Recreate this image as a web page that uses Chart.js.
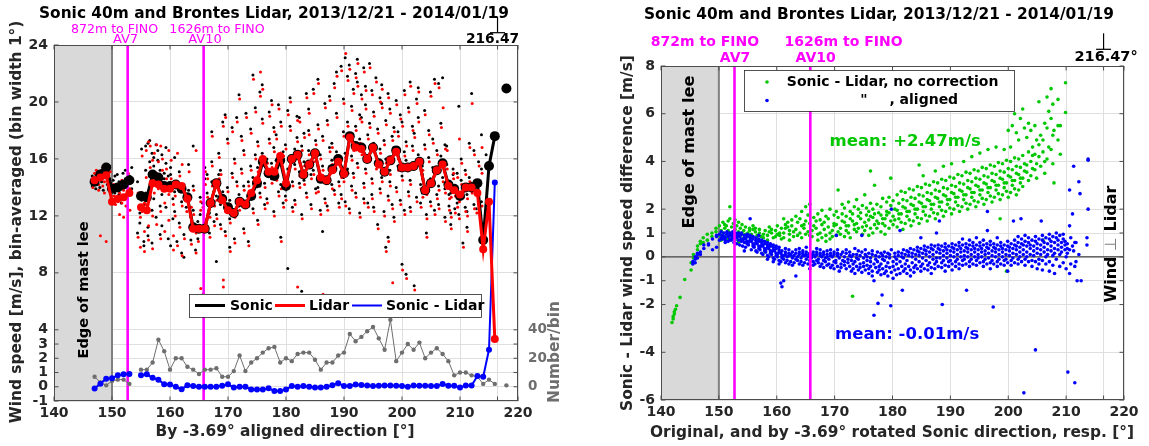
<!DOCTYPE html>
<html>
<head>
<meta charset="utf-8">
<script src="https://cdn.jsdelivr.net/npm/chart.js@4.4.0/dist/chart.umd.min.js"></script>
<style>
body{margin:0;background:#fff;width:1149px;height:446px;overflow:hidden;position:relative}
#left{position:absolute;left:0;top:0}
#right{position:absolute;left:570px;top:0}
</style>
</head>
<body>
<canvas id="left" width="570" height="446"></canvas>
<canvas id="right" width="579" height="446"></canvas>
<script>
// ---- texts ----
const chartTitle = "Sonic 40m and Brontes Lidar, 2013/12/21 - 2014/01/19";
const leftXTitle = "By -3.69\u00b0 aligned direction [\u00b0]";
const leftYTitle = "Wind speed [m/s], bin-averaged (bin width 1\u00b0)";
const countTitle = "Number/bin";
const rightXTitle = "Original, and by -3.69\u00b0 rotated Sonic direction, resp. [\u00b0]";
const rightYTitle = "Sonic - Lidar wind speed difference [m/s]";
const leeLabel = "Edge of mast lee";
const mastDist = ["872m to FINO", "1626m to FINO"];
const mastNames = ["AV7", "AV10"];
const meanLabels = ["mean: +2.47m/s", "mean: -0.01m/s"];

// ---- reference directions ----
const leeEdge = 150;
const mastDirs = [152.7, 165.8];
const perpDir = 216.47;

// ---- ticks ----
const dirTicks = [140, 150, 160, 170, 180, 190, 200, 210, 220, 216.47];
const leftYTicks = [-1, 0, 1, 2, 3, 4, 8, 12, 16, 20, 24];
const countTicks = [0, 10, 20, 30, 40, 80, 120, 160, 200];
const countLabels = [0, 20, 40];
const rightYTicks = [-6, -4, -2, -1, 0, 1, 2, 4, 6, 8];

// ---- bin-averaged (left) ----
const dirBins = [147,148,149,150,151,152,153,154,155,156,157,158,159,160,161,162,163,164,165,166,167,168,169,170,171,172,173,174,175,176,177,178,179,180,181,182,183,184,185,186,187,188,189,190,191,192,193,194,195,196,197,198,199,200,201,202,203,204,205,206,207,208,209,210,211,212,213,214,215,216,217,218];
const sonicMean = [14.4,14.9,15.4,13.9,14.0,14.2,14.5,null,13.4,13.3,14.9,14.7,14.1,14.1,14.2,13.9,13.3,11.2,11.1,11.1,12.9,14.3,13.2,12.6,12.2,13.0,12.8,13.4,14.3,15.8,15.0,14.8,15.9,14.1,16.0,16.3,14.9,15.6,16.4,14.6,14.5,15.3,16.0,15.0,17.6,16.9,16.8,16.0,16.8,15.7,15.1,15.9,16.6,15.4,15.4,15.5,15.8,13.8,14.3,15.2,15.7,14.2,13.9,13.4,14.0,14.0,14.3,10.3,15.5,17.6,null,20.95];
const lidarMean = [14.5,14.7,14.85,13.0,13.2,13.3,13.6,null,12.6,12.4,14.3,14.2,13.9,13.9,14.2,14.1,13.2,11.1,11.1,11.1,12.9,14.3,13.1,12.4,12.2,13.0,12.8,13.6,14.5,16.0,15.1,15.1,16.2,14.3,16.0,16.3,14.9,15.6,16.4,14.7,14.5,15.2,15.8,14.95,17.5,16.8,16.7,16.0,16.8,15.6,15.1,15.9,16.5,15.4,15.4,15.5,15.8,13.8,14.3,15.2,15.6,14.1,13.8,13.5,14.0,14.0,13.6,9.65,13.0,3.35,null,null];
const diffMean = [-0.13,0.22,0.57,0.6,0.8,0.87,0.9,null,0.8,0.87,0.63,0.5,0.17,0.15,0.0,-0.17,0.1,0.05,0.0,0.0,0.0,0.0,0.07,0.17,-0.05,0.0,0.0,-0.2,-0.2,-0.2,-0.1,-0.3,-0.3,-0.2,0.05,0.0,0.05,0.0,-0.05,-0.05,0.0,0.1,0.25,0.05,0.05,0.15,0.12,0.08,0.05,0.07,0.08,0.08,0.07,0.05,0.0,0.08,0.07,0.07,0.05,0.05,0.2,0.07,0.07,-0.05,0.08,0.08,0.75,0.7,2.6,14.35,null,null];
const countPerBin = [7,3,1,4,5,5,2,null,12,12,17,33,25,12,20,20,14,12,9,12,12,13,7,7,11,22,11,17,20,24,27,28,17,20,18,23,24,24,19,12,17,17,22,24,37,32,35,39,42,34,26,47,18,24,30,26,31,20,24,27,23,18,8,10,10,8,7,2,5,2,null,1];

// ---- 10-min values (left), rows: [direction, speeds...] ----
const sonicRaw = [
[146.6,14.1,14.8],[146.9,14.5,14.3],[147.2,14.9,13.9],[147.5,14.2,15.1],[147.9,14.6,14.0],[148.2,15.2,14.4],[148.5,15.0,13.8],[148.8,14.7,15.3],[149.2,14.2,14.9],[149.6,15.5,14.6],
[150.2,14.1,14.5],[150.5,13.6,14.8],[150.9,13.8,14.9],[151.2,14.4,13.5],[151.6,14.2,12.9],[151.9,15.0,13.9],[152.3,14.6,15.2],[152.7,13.7,14.0],[153.0,14.8,14.3],[153.4,13.9,15.4],
[154.4,10.8,14.4],[154.8,11.5,12.2],[155.1,13.1,16.7],[155.5,10.2,12.8,9.9],[155.8,16.9,13.6,15.2],[156.2,17.1,10.6,11.2],[156.5,17.3,14.8,15.8],[156.9,16.4,12.4,10.1],[157.2,16.1,15.5,13.2],[157.6,17.0,14.3,11.9],
[157.9,16.6,14.1,15.9],[158.3,15.2,12.7,10.7],[158.6,16.3,13.5,11.3],[159.0,14.6,15.0],[159.3,15.7,12.6,16.8],[159.7,13.9,14.8,10.4],[160.1,14.9,15.4,9.9],[160.5,13.2,11.8],[160.8,13.7,12.3,16.1],[161.2,14.4,10.2],
[161.6,15.1,11.5],[162.0,13.0,9.4],[162.4,14.2,10.7,9.1],[162.8,12.6,13.5],[163.2,13.8,15.6],[163.6,11.9,10.3],[164.0,12.4,14.1,16.9],[164.4,11.0,9.6],[164.8,11.6,10.4],[165.2,13.3,12.1],
[165.6,12.9,11.2],[166.0,14.6,15.4],[166.4,13.6,14.9],[166.8,12.2,10.8],[167.2,14.4,15.8,17.9],[167.6,13.0,11.6],[168.0,13.4,12.1,8.8],[168.4,14.9,16.4],[168.7,15.2,11.4,12.8],[169.1,13.7,18.6],
[169.5,12.6,10.9,19.1],[169.9,14.0,17.4],[170.3,13.1,11.8,9.8],[170.7,15.0,18.2],[171.1,12.2,16.0,10.4],[171.5,14.4,18.9],[171.9,13.5,12.7,20.5],[172.3,15.3,17.6],[172.7,14.1,16.6,11.1],[173.1,12.9,19.2],
[173.5,13.0,14.4,10.2],[173.9,15.5,18.1],[174.3,14.7,12.5,21.9],[174.7,16.3,19.6],[175.1,15.4,17.2,11.7],[175.5,13.6,20.7,14.1],[175.9,16.4,18.8,21.2],[176.3,14.3,12.8],[176.7,15.1,13.2,16.0],[177.1,17.4,19.3],
[177.5,14.6,20.1,15.7],[177.9,16.8,12.3,18.2],[178.3,15.9,17.7,14.8],[178.7,13.7,19.8],[179.1,14.2,18.6,10.5],[179.5,16.5,12.9],[179.9,13.4,17.0,14.6],[180.3,15.3,19.4,8.3],[180.7,16.2,18.3,20.3],[181.1,14.4,12.6],
[181.5,15.6,13.1,16.7],[181.9,17.5,19.0],[182.3,14.3,18.9,15.1],[182.7,16.9,12.1,6.7],[183.1,15.8,17.8,14.5],[183.5,13.6,20.6],[183.9,16.6,19.5,18.0],[184.3,14.9,12.8],[184.7,15.2,20.9,16.1],[185.1,17.3,13.9],
[185.5,14.0,18.4,21.6],[185.9,16.3,12.4],[186.3,15.5,17.6,10.9],[186.7,13.2,19.9],[187.1,14.6,12.7,18.7],[187.5,16.8,20.4],[187.9,15.9,17.1,14.2],[188.3,13.8,21.3],[188.7,16.5,19.2,22.1],[189.1,14.4,12.9],
[189.5,15.0,13.5,22.5],[189.9,17.9,20.2,14.7],[190.2,16.4,13.0,23.1],[190.6,18.6,21.8,15.3],[190.9,17.8,12.5,22.6],[191.3,14.1,19.7,16.2],[191.6,16.9,20.9,15.0],[192.0,13.6,22.0,18.3],[192.3,15.7,21.4,23.0],[192.7,17.4,12.2,19.1],
[193.0,16.6,20.5,18.9],[193.4,14.3,22.4,13.2],[193.7,15.3,21.1,19.8],[194.1,17.7,12.9],[194.4,16.2,18.5,22.7],[194.8,13.5,20.8,14.6],[195.1,17.1,19.3,12.6],[195.5,15.6,21.7],[195.8,15.8,18.1,11.4],[196.2,13.9,20.3,16.7],
[196.5,14.7,19.9,21.2],[196.9,17.3,12.3],[197.2,16.0,18.7,9.8],[197.6,13.4,10.5,20.6],[197.9,15.2,19.5,14.4],[198.3,17.6,12.8,6.4],[198.6,16.8,18.2,11.9],[199.0,14.0,20.1],[199.3,15.5,17.9,16.3],[199.7,13.1,19.1],
[200.0,14.8,18.6,8.6],[200.4,16.5,12.4,20.8],[200.7,15.9,17.2,7.9],[201.1,13.7,19.6],[201.4,14.5,12.6,21.4],[201.8,16.9,18.3],[202.1,15.6,17.8,7.1],[202.5,13.3,20.2],[202.8,16.3,18.9,21.0],[203.2,14.2,12.9],
[203.5,14.9,13.6,15.5],[203.9,17.0,19.4],[204.2,13.8,12.1,10.8],[204.6,16.1,18.0],[204.9,14.6,13.0,20.7],[205.3,15.4,17.4],[205.6,15.3,12.4,21.6],[206.0,13.5,16.6],[206.3,14.1,12.8,21.3],[206.7,16.2,18.5],
[207.0,15.8,14.7,21.7],[207.4,13.9,17.0,11.9],[207.7,14.4,15.6,16.9],[208.1,12.7,13.5],[208.4,13.6,12.2,11.4],[208.8,14.9,15.3],[209.1,14.1,13.7,12.5],[209.5,12.9,15.0],[209.8,13.3,12.1,19.7],[210.2,14.5,16.0],
[210.5,14.0,13.6,10.1],[210.9,12.6,15.2],[211.2,13.5,12.3,11.2],[211.6,14.7,17.1],[212.0,13.9,14.3,20.6],[212.4,12.8,16.6],[212.8,14.4,12.5],[213.2,13.2,15.8],[213.7,17.7,15.3,13.0],[214.5,16.3,11.9]
];
const lidarRaw = [
[146.7,14.3,14.0],[147.0,14.7,15.0],[147.3,14.5,15.2],[147.7,13.8,14.2],[148.0,14.9,10.6],[148.4,14.1,15.4],[148.7,14.4,13.6],[149.0,10.2,14.8],[149.4,13.9,14.6],[149.7,15.1],
[150.3,13.4,14.2],[150.6,12.8],[151.0,13.0,14.1],[151.3,12.1,13.6],[151.7,12.9,14.5],[152.0,13.8,11.9],[152.4,13.5,12.7],[152.8,14.3,15.0],[153.1,13.9,12.4],[153.5,14.6],
[154.5,10.5,13.6],[154.9,11.9,9.8],[155.2,12.3,16.2],[155.6,10.9,12.9,9.5],[155.9,16.6,12.8,14.7],[156.3,17.2,11.3,10.3],[156.6,16.9,14.2,15.4],[157.0,15.9,12.0,9.7],[157.3,16.4,13.6],[157.7,15.0,17.0,11.4],
[158.0,15.8,13.9],[158.4,16.9,12.3,10.4],[158.7,16.0,15.2],[159.1,14.3,12.9,10.9],[159.4,15.3,14.6],[159.8,13.5,16.6,11.7],[160.2,14.6,15.9],[160.6,12.8,10.6,9.6],[160.9,13.4,12.0],[161.3,14.1,9.9,16.4],
[161.7,14.8,11.2],[162.1,12.7,9.2,15.6],[162.5,13.9,10.4],[162.9,12.3,13.1],[163.3,13.5,15.1],[163.7,11.6,10.0,12.6],[164.1,12.1,13.8],[164.5,10.8,9.4,16.6],[164.9,11.3,10.2],[165.3,13.0,12.4,6.9],
[165.7,12.6,10.9,6.5],[166.1,14.2,15.1],[166.5,13.3,14.6],[166.9,11.9,10.5],[167.3,14.1,15.5,17.6],[167.7,12.7,11.3],[168.1,13.1,11.8],[168.5,14.6,16.1],[168.8,14.9,11.1],[169.2,13.4,18.3,7.5,7.0],
[169.6,12.3,10.6,18.9],[170.0,13.7,17.1],[170.4,12.8,11.5,9.5],[170.8,14.7,17.9],[171.2,11.9,15.7,10.1],[171.6,14.1,18.6],[172.0,13.2,12.4,20.2],[172.4,15.0,17.3],[172.8,13.8,16.3,10.8],[173.2,12.6,18.9],
[173.6,12.7,14.1,9.9],[174.0,15.2,17.8],[174.4,14.4,12.2,21.6],[174.8,16.0,19.3],[175.2,15.1,16.9,11.4],[175.6,13.3,20.4,22.1],[176.0,16.1,18.5,20.9],[176.4,14.0,12.5],[176.8,14.8,12.9,15.7],[177.2,17.1,19.0],
[177.6,14.3,19.8,15.4],[178.0,16.5,12.0,17.9],[178.4,15.6,17.4,14.5],[178.8,13.4,19.5],[179.2,13.9,18.3,10.2],[179.6,16.2,12.6],[180.0,13.1,16.7,14.3],[180.4,15.0,19.1],[180.8,15.9,18.0,20.0],[181.2,14.1,12.3],
[181.6,15.3,12.8,16.4],[182.0,17.2,18.7,7.0],[182.4,14.0,18.6,14.8],[182.8,16.6,11.8],[183.2,15.5,17.5,14.2],[183.6,13.3,20.3],[184.0,16.3,19.2,17.7],[184.4,14.6,12.5],[184.8,14.9,20.6,15.8],[185.2,17.0,13.6],
[185.6,13.7,18.1,21.3],[186.0,16.0,12.1],[186.4,15.2,17.3,6.5],[186.8,12.9,19.6],[187.2,14.3,12.4,18.4],[187.6,16.5,20.1],[188.0,15.6,16.8,13.9],[188.4,13.5,21.0],[188.8,16.2,18.9,21.8],[189.2,14.1,12.6],
[189.6,14.7,13.2,22.2],[190.0,17.6,19.9,14.4],[190.3,16.1,12.7,23.4],[190.7,18.3,21.5,15.0],[191.0,17.5,12.2,22.3],[191.4,13.8,19.4,15.9],[191.7,16.6,20.6,14.7],[192.1,13.3,21.7,18.0],[192.4,15.4,21.1,22.7],[192.8,17.1,11.9,18.8],
[193.1,16.3,20.2,18.6],[193.5,14.0,22.1,12.9],[193.8,15.0,20.8,19.5],[194.2,17.4,12.6],[194.5,15.9,18.2,22.4],[194.9,13.2,20.5,14.3],[195.2,16.8,19.0,12.3],[195.6,15.3,21.4],[195.9,15.5,17.8,11.1],[196.3,13.6,20.0,16.4],
[196.6,14.4,19.6,20.9],[197.0,17.0,12.0],[197.3,15.7,18.4,9.5],[197.7,13.1,10.2,20.3],[198.0,14.9,19.2,14.1],[198.4,17.3,12.5,7.3],[198.7,16.5,17.9,11.6],[199.1,13.7,19.8],[199.4,15.2,17.6,16.0],[199.8,12.8,18.8],
[200.1,14.5,18.3,8.2],[200.5,16.2,12.1,20.5],[200.8,15.6,16.9,7.6],[201.2,13.4,19.3],[201.5,14.2,12.3,21.1],[201.9,16.6,18.0],[202.2,15.3,17.5,6.8],[202.6,13.0,19.9],[202.9,16.0,18.6,20.7],[203.3,13.9,12.6],
[203.6,14.6,13.3,15.2],[204.0,16.7,19.1],[204.3,13.5,11.8,10.5],[204.7,15.8,17.7],[205.0,14.3,12.7,20.4],[205.4,15.1,17.1],[205.7,15.0,12.1,21.3],[206.1,13.2,16.3],[206.4,13.8,12.5,21.0],[206.8,15.9,18.2],
[207.1,15.5,14.4,19.6],[207.5,13.6,16.7,11.6],[207.8,14.1,15.3,16.6],[208.2,12.4,13.2],[208.5,13.3,11.9,11.1],[208.9,14.6,15.0],[209.2,13.8,13.4,12.2],[209.6,12.6,14.7],[209.9,13.0,11.8,17.4],[210.3,14.2,15.7],
[210.6,13.7,13.3,9.8],[211.0,12.3,14.9],[211.3,13.2,12.0,10.9],[211.7,14.4,16.8],[212.1,13.6,14.0,19.9],[212.5,12.5,16.3],[212.9,14.1,12.2],[213.3,12.9,15.5],[213.8,16.8,15.0,12.7]
];

// ---- speed differences (right), rows: [direction, differences...] ----
const diffNoCorr = [
[141.9,-2.75],[142.1,-2.6,-2.5],[142.3,-2.4,-2.3],[142.5,-2.2],[142.7,-2.05],[143.3,-1.7],[144.1,-0.95],[145.2,-0.55,-0.25],[145.6,-0.05,0.1],
[146.3,0.3,0.45],[146.8,0.55,0.65],[147.3,0.8,0.6],[148.0,0.7,0.95],[148.8,1.0,0.85],[149.5,1.05,1.2],
[150.1,1.3,0.9],[150.4,1.1,0.7],[150.7,1.45,1.0],[151.0,1.2,0.8,1.35],[151.3,1.3,0.9],[151.6,1.5,1.1,0.75],[151.9,1.6,1.0,2.1],[152.2,1.25,0.85],[152.5,1.4,0.95],[152.8,1.15,0.7,1.55],
[153.1,1.3,0.85],[153.4,1.05,1.45,0.6],[153.7,1.2,0.9],[154.0,1.35,1.0],[154.3,1.1,0.8],[154.6,0.95,1.25,0.6],[155.0,1.0,0.85],[155.3,1.2,1.1],[155.6,0.95,0.8],[155.9,1.15,1.3],
[156.3,1.05,1.2],[156.6,0.9,0.75],[157.0,1.0,1.15],[157.3,0.85,0.65],[157.7,0.95,0.8],[158.0,1.1,0.2],[158.4,0.9,0.7],[158.7,1.05,1.25],[159.1,1.0,1.15],[159.4,0.8],
[159.8,0.85,1.1],[160.1,0.95,1.3],[160.5,0.9,1.0],[160.8,1.2,0.75],[161.2,1.0,0.8,1.6],[161.5,1.35,1.2],[161.9,1.25,1.45],[162.2,0.95,1.1,0.7],[162.6,1.3,1.55],[162.9,1.05,0.85],
[163.3,1.15,1.7],[163.6,1.45,0.9],[164.0,1.0,1.6],[164.3,1.3,0.8,1.9],[164.7,1.2,1.35],[165.0,1.5,0.95,2.1],[165.4,1.05,1.75],[165.7,1.4,0.9,2.2],[166.1,1.1,0.85],[166.4,1.3,1.65],
[166.8,1.2,1.5],[167.1,0.95,1.8,0.7],[167.5,1.0,1.55],[167.8,1.35,0.8,1.95],[168.2,1.15,1.45],[168.5,0.9,1.7,0.65],[168.9,1.25,1.6],[169.2,1.0,0.75,2.0],[169.6,1.1,0.85],[169.9,1.4,1.75,1.3],
[170.3,1.35,0.9,1.9],[170.6,1.05,1.65,2.8],[171.0,1.2,0.95],[171.3,1.5,1.8,2.2],[171.7,1.45,0.85,2.05],[172.0,1.1,1.7,1.3],[172.4,1.3,1.0,2.3],[172.7,1.6,1.9,0.8],[173.1,1.5,1.8,-1.65],[173.4,1.15,2.1,1.35],
[173.8,1.4,1.05,2.4],[174.1,1.7,2.0,1.2],[174.5,1.6,1.85],[174.8,1.25,2.15,0.95],[175.2,1.45,1.1,2.6],[175.5,1.75,2.05,1.3],[175.9,1.55,1.9,0.9],[176.2,1.2,2.25,1.7,3.6],[176.6,1.65,2.0,1.0],[176.9,1.35,1.8,3.0],
[177.3,1.5,1.2,2.2],[177.6,1.85,1.4],[178.0,1.75,2.1,1.05],[178.3,1.4,2.45,1.6],[178.7,1.6,1.3,0.95],[179.0,1.9,2.3,1.75],[179.4,1.85,1.2,2.5],[179.7,1.5,2.15,3.3],[180.1,1.7,1.35,2.35],[180.4,2.0,1.55],
[180.8,1.95,1.25,2.6],[181.1,1.6,2.25,1.8],[181.5,1.8,1.45,2.75],[181.8,2.1,2.4,1.15],[182.2,2.05,1.4,2.7],[182.5,1.7,2.35,1.9],[182.9,1.9,1.55,2.85],[183.2,2.2,2.5,1.3],[183.6,2.15,1.5,2.8],[183.9,1.8,2.45,2.0],
[184.3,2.0,1.65,2.95],[184.6,2.3,2.6,1.4,3.85],[185.0,2.25,1.6,2.9],[185.3,1.9,2.55,2.1,3.4],[185.7,2.1,1.75,3.05],[186.0,2.4,2.7,1.5],[186.4,2.35,1.7,3.0],[186.7,2.0,2.65,2.2],[187.1,2.2,1.85,3.15],[187.4,2.5,2.8,1.6,3.6],
[187.8,2.45,1.8,3.1],[188.1,2.1,2.75,2.3],[188.5,2.3,1.95,3.25],[188.8,2.6,2.9,1.7,3.8],[189.2,2.55,1.9,3.2],[189.5,2.2,2.85,2.4],[189.9,2.4,2.05,3.35],[190.2,2.7,3.0,1.8,3.9],[190.6,2.65,2.0,3.3],[190.9,2.3,2.95,2.5],
[191.3,2.5,2.15,3.45],[191.6,2.8,3.1,1.9],[192.0,2.75,2.1,3.4],[192.3,2.4,3.05,2.6,4.0],[192.7,2.6,2.25,3.55],[193.0,2.9,3.2,2.0],[193.4,2.85,2.2,3.5],[193.7,2.5,3.15,2.7,4.2],[194.1,2.7,2.35,3.65],[194.4,3.0,3.3,2.1],
[194.8,2.95,2.3,3.6],[195.1,2.6,3.25,2.8,4.35],[195.5,2.8,2.45,3.75],[195.8,3.1,3.4,2.2],[196.2,3.05,2.4,3.7],[196.5,2.7,3.35,2.9,4.5],[196.9,2.9,2.55,3.85],[197.2,3.2,3.5,2.3],[197.6,3.15,2.5,3.8],[197.9,2.8,3.45,3.0,4.6],
[198.3,3.0,2.65,3.95],[198.6,3.3,3.6,2.4,1.6],[199.0,3.25,2.6,3.9],[199.3,2.9,3.55,3.1,4.5],[199.7,3.1,2.75,4.05,-0.6],[200.0,3.4,3.7,2.5,5.3],
[200.4,3.35,2.7,4.0,4.6],[200.7,3.0,3.65,3.2,5.5],[201.1,3.2,2.85,4.15,6.0],[201.4,3.5,3.8,2.6,5.2],[201.8,3.45,2.8,4.1,4.9],[202.1,3.1,3.75,3.3,5.8],[202.5,3.3,2.95,4.25,6.2],[202.8,3.6,3.9,5.4],[203.2,3.55,3.85,5.0],[203.5,3.2,4.4,5.6],
[203.9,3.4,4.0,5.3],[204.2,3.7,4.6,4.25],[204.6,3.65,4.3,5.5],[204.9,3.3,4.9,3.9],[205.3,4.2,4.7,6.5],[205.6,3.8,5.1],[206.0,4.4,4.9,0.7],[206.3,3.5,5.6,4.0],[206.7,4.1,5.4,6.7],[207.0,4.6,6.1],
[207.4,4.5,5.8,7.05],[207.7,3.9,5.1,6.4],[207.9,3.1,5.3],[208.6,4.9,5.5,6.6],[209.0,5.5,4.3],[209.9,6.05,7.3]
];
const diffAligned = [
[145.5,-0.3,-0.2],[145.9,-0.1,-0.25,0.0],[146.3,0.1,-0.05,0.15],[146.8,0.2,0.1],[147.4,0.35,0.5],[148.2,0.55,0.5],[148.9,0.3,0.75],[149.6,0.85,0.9,0.4],
[150.1,0.95,0.7],[150.4,0.8,1.05],[150.6,0.9,0.75],[150.9,1.0,0.85],[151.1,0.8,0.7,0.6],[151.4,0.95,1.05],[151.6,0.85,0.65],[151.9,0.75,1.0,0.9],[152.1,0.9,0.7],[152.4,0.8,0.95,1.05],
[152.6,0.75,0.6],[152.9,0.85,1.0,0.9],[153.1,0.8,0.55],[153.4,0.7,0.9,1.0,0.95],[153.6,0.85,0.5],[153.9,0.65,0.75,0.95,1.0],[154.1,0.7,0.45],[154.4,0.8,0.6,0.9,0.25],[154.6,0.75,0.4],
[154.9,0.55,0.85,0.65,0.95],[155.1,0.6,0.5],[155.4,0.8,0.7,0.9,1.6],[155.6,0.65,0.3],[155.9,0.45,0.75,0.55,0.85],[156.1,0.5,0.4],[156.4,0.7,0.6,0.8,0.25],[156.6,0.55,0.2],
[156.9,0.35,0.65,0.45,0.75,0.9],[157.1,0.4,0.3],[157.4,0.6,0.5,0.15,0.7],[157.6,0.45,0.1],[157.9,0.25,0.55,0.35,0.65],[158.1,0.3,0.2],[158.4,0.5,0.4,0.05,0.6,-0.1],[158.6,0.35,0.0],
[158.9,0.15,0.45,0.25,0.55],[159.1,0.2,0.1],[159.4,0.4,0.3,-0.05,0.5,-0.2],[159.6,0.25,-0.1],[159.9,0.05,0.35,0.15,0.45],
[160.1,0.1,0.0],[160.4,0.3,0.2,-0.15,0.4,-0.3],[160.7,0.15,-0.2,-1.1],[160.9,-0.05,0.25,0.05,-1.25],[161.2,0.05,-0.1,-1.0],[161.5,0.2,0.1,-0.25,0.35],[161.8,0.0,-0.15],[162.1,0.15,0.05,-0.3,0.3],
[162.4,0.1,-0.2],[162.7,-0.05,0.2,0.0,-0.35],[163.0,0.05,-0.25],[163.3,-0.1,0.15,-0.8,0.3],[163.6,0.0,-0.15],[163.9,0.1,0.2,-0.3,0.35],[164.2,-0.05,-0.2],[164.5,0.15,0.05,-0.35,0.25],
[164.8,0.05,-0.25],[165.1,-0.1,0.2,0.1,0.4],[165.4,0.0,-0.3],[165.7,0.15,-0.15,0.1,-0.5],[166.0,-0.05,0.05],[166.3,0.1,-0.2,0.2,-0.35],[166.6,0.0,-0.3],[166.9,0.2,-0.15,0.1,0.35],
[167.2,-0.1,-0.25],[167.5,0.05,0.15,-0.4,0.3],[167.8,0.0,-0.3],[168.1,-0.15,0.1,0.2,-0.45],[168.4,-0.05,-0.2],[168.7,0.1,0.25,-0.35,0.0],[169.0,-0.1,-0.3],[169.3,0.05,0.15,-0.45,0.3],
[169.6,0.0,-0.35],[169.9,-0.2,0.1,0.2,-0.5],
[170.2,-0.15,-0.25],[170.3,0.9],[170.5,0.05,0.15,-0.4,0.3],[170.8,-0.05,-0.6],[171.1,-0.3,0.1,-0.45],[171.4,0.2,-0.15],[171.7,-0.2,0.0,-0.35],[172.0,0.15,-0.5,0.3],[172.3,-0.1,-0.25],
[172.6,0.05,-0.4,0.2],[172.9,-0.15,-0.6,0.0],[173.2,-0.3,0.1,-0.5],[173.5,0.35,-0.7,-0.2],[173.8,-0.05,-0.4,0.1],[174.1,-0.55,0.25,-0.1],[174.4,-0.3,0.05,-0.45],[174.7,0.2,-0.65,0.9],
[175.0,-0.25,-0.05,-0.4],[175.3,0.1,-0.55,0.3],[175.6,-0.15,-0.35,0.0],[175.9,-0.5,0.15,-0.7],[176.2,-0.2,-0.05,-0.4],[176.5,0.1,-0.6,0.25,-0.8],[176.8,-2.45,-1.0,-0.3],
[177.1,-0.1,-0.45,0.05],[177.4,-0.65,0.2,-0.2],[177.5,-1.95],[177.7,-0.4,0.0,-0.55],[178.0,0.15,-0.75,-0.3],[178.2,-1.6],[178.3,-0.1,-0.5,0.05],[178.6,-0.7,0.2,-0.15],
[178.9,-0.4,0.0,-0.6],[179.2,0.15,-0.8,-0.25],[179.5,-0.05,-0.45,0.1],[179.7,-2.05],[179.8,2.0,-0.65,0.3],
[180.1,-0.9,-0.2,-0.4],[180.4,0.0,-0.55,0.15],[180.7,-0.75,-0.1,-0.3],[181.0,0.05,-0.5,0.2],[181.3,-0.7,1.1,-0.2],[181.6,0.0,-0.4,0.15],[181.7,-1.4],[181.9,-0.6,0.3,-0.05],
[182.2,-0.3,0.1,-0.5],[182.5,0.25,-0.7,-0.15],[182.8,0.05,-0.4,0.2],[183.1,-0.55,0.35,-0.8],[183.4,0.0,-0.25,0.15],[183.7,-0.45,0.3,-0.65],[184.0,-0.1,0.1,-0.35],[184.3,0.25,-0.5,0.4],
[184.6,0.05,-0.2,0.2],[184.9,-0.4,0.35,-0.6,0.8],[185.2,-0.05,0.15,-0.3],[185.5,0.3,-0.5,0.45],[185.8,0.1,-0.15,0.25],[186.1,-0.35,0.4,-0.55],[186.4,0.0,0.2,-0.25],[186.7,0.35,-0.45,0.5,-0.7],
[187.0,0.1,-0.1,0.3],[187.3,-0.3,0.45,-0.5],[187.6,-0.05,0.2,-0.2,1.0],[187.9,0.35,-0.4,0.5],[188.1,1.5],[188.2,0.15,-0.05,0.3],[188.5,-0.25,0.45,-0.45],[188.6,-2.0],[188.8,0.05,0.25,-0.15],
[189.1,0.4,-0.35,0.55,-0.6],[189.4,0.15,-0.05,0.3],[189.7,-0.2,0.45,-0.4],
[190.0,0.05,0.25,-0.15],[190.3,0.4,-0.3,0.55,-0.55],[190.6,0.2,0.0,0.35],[190.9,-0.2,0.5,-0.4],[191.2,0.1,0.3,-0.1],[191.5,0.45,-0.3,0.6,-0.5],[191.8,0.2,0.0,0.35],[192.1,-0.15,0.5,-0.35,0.75],
[192.4,0.05,0.25,-0.1],[192.7,0.4,-0.3,0.55],[192.8,-1.4],[193.0,0.2,0.0,0.35],[193.3,-0.2,0.5,-0.4,0.7],[193.6,0.1,0.3,-0.1],[193.9,0.45,-0.3,0.6],[194.2,0.2,0.0,0.35],
[194.5,-0.15,0.5,-0.35,0.8],[194.8,0.1,0.3,-0.05],[195.1,0.45,-0.25,0.6],[195.4,0.2,0.0,0.35],[195.7,-0.2,0.5,-0.4,0.7],[196.0,0.1,0.25,-0.1],[196.3,0.4,-0.3,0.55],[196.4,1.1,1.9],
[196.6,0.15,0.35,-0.05],[196.9,0.5,-0.25,0.65,-0.5],[197.2,0.05,0.25,-0.15],[197.4,-2.1],[197.5,0.4,-0.3,0.55],[197.8,0.2,0.0,0.35],[198.1,-0.2,0.5,-0.4,0.8],[198.4,0.1,0.3,-0.1],
[198.7,0.45,-0.3,0.6],[199.0,0.2,0.0,0.35],[199.3,-0.15,0.5,-0.35],[199.6,0.1,0.3,-0.1],[199.9,0.45,-0.25,0.65,-0.6],
[200.2,0.25,0.05,0.4],[200.5,-0.15,0.55,-0.35],[200.8,0.15,0.35,-0.05],[200.9,1.5],[201.1,0.5,-0.25,0.7],[201.4,0.3,0.1,0.45],[201.7,-0.1,0.6,-0.3,0.85],[202.0,0.2,0.4,0.0],[202.2,1.6],
[202.3,0.55,-0.2,0.75],[202.6,0.3,0.1,0.5],[202.7,-5.7],[202.9,-0.1,0.65,-0.35,0.9],[203.2,0.2,0.45,0.0],[203.5,0.6,-0.2,0.8],[203.8,0.35,0.1,0.5],[204.1,-0.15,0.7,-0.4],
[204.4,0.25,0.45,0.05],[204.7,0.65,-0.2,0.85,-3.9],[205.0,0.35,0.15,0.55,-0.5],[205.3,-0.1,0.75,-0.3],[205.6,0.3,0.5,0.1],[205.7,1.5],[205.9,0.7,-0.15,0.9,-0.55],[206.2,0.4,0.2,0.6],
[206.5,0.0,0.8,-0.3],[206.8,0.3,0.55,0.1],[207.1,0.75,-0.2,0.95,-0.6],[207.4,0.45,0.25,0.65],[207.7,0.05,0.85,-0.35],[208.0,0.35,0.6,0.15,-0.7],[208.3,0.8,-0.1,1.0],[208.6,0.5,0.3,0.7],
[208.9,0.1,0.9,-0.4],[209.2,0.4,0.6,0.2],[209.5,0.75,-0.25,0.95],[209.8,0.5,0.3,0.65],[210.0,0.0,-0.5],[210.2,0.35,0.55,0.15],[210.3,-4.83],
[210.6,2.8,1.3,0.3,-0.7],[210.8,-0.3,0.8],[211.1,1.8,0.45],[211.3,3.8,0.25],[211.5,0.6,-0.4,-5.28],[211.7,-0.2,0.6],[211.9,-1.0],[212.2,3.15,0.1],[212.4,2.65],[212.6,-1.0],[213.6,0.8,0.5],[213.8,4.05,4.1,2.0]
];

// ---- helpers ----
const INK = '#262626';
const GRID = '#dfdfdf';
const MAG = '#ff00ff';
const GREEN = '#00c800';
const GRAY = '#6e6e6e';
Chart.defaults.font.family = "'DejaVu Sans', sans-serif";
const B = s => "bold " + s + "px 'DejaVu Sans'";
const N = s => s + "px 'DejaVu Sans'";

const rowsToPoints = rows => rows.flatMap(r => r.slice(1).map(v => ({x: r[0], y: v})));
const binPoints = vals => dirBins.map((d, i) => ({x: d, y: vals[i]}));

function txt(ctx, s, x, y, font, color, align, rot) {
	ctx.save();
	ctx.translate(x, y);
	if (rot) ctx.rotate(rot);
	ctx.font = font;
	ctx.fillStyle = color;
	ctx.textAlign = align || 'center';
	ctx.textBaseline = 'middle';
	ctx.fillText(s, 0, 0);
	ctx.restore();
}
function seg(ctx, x0, y0, x1, y1, color, w) {
	ctx.save();
	ctx.strokeStyle = color;
	ctx.lineWidth = w;
	ctx.beginPath();
	ctx.moveTo(x0, y0);
	ctx.lineTo(x1, y1);
	ctx.stroke();
	ctx.restore();
}
function drawLee(chart) {
	const {ctx, chartArea: a, scales: {x}} = chart;
	const x0 = x.getPixelForValue(140), x1 = x.getPixelForValue(leeEdge);
	ctx.save();
	ctx.fillStyle = '#d9d9d9';
	ctx.fillRect(x0, a.top, x1 - x0, a.bottom - a.top);
	ctx.restore();
	seg(ctx, x1, a.top, x1, a.bottom, '#808080', 2);
}
function drawMast(chart) {
	const {ctx, chartArea: a, scales: {x}} = chart;
	for (const d of mastDirs) {
		const p = x.getPixelForValue(d);
		seg(ctx, p, a.top, p, a.bottom, MAG, 2.6);
	}
}
function drawBox(chart, leftKey, rightKey) {
	const {ctx, chartArea: a, scales} = chart;
	const L = 4.5;
	ctx.save();
	ctx.strokeStyle = '#4d4d4d';
	ctx.lineWidth = 1;
	ctx.strokeRect(a.left + 0.5, a.top + 0.5, a.right - a.left - 1, a.bottom - a.top - 1);
	ctx.restore();
	for (const t of scales.x.ticks) {
		const p = scales.x.getPixelForValue(t.value);
		seg(ctx, p, a.bottom, p, a.bottom - L, '#4d4d4d', 1);
		seg(ctx, p, a.top, p, a.top + L, '#4d4d4d', 1);
	}
	for (const t of scales[leftKey].ticks) {
		const p = scales[leftKey].getPixelForValue(t.value);
		seg(ctx, a.left, p, a.left + L, p, '#4d4d4d', 1);
	}
	for (const t of scales[rightKey].ticks) {
		const p = scales[rightKey].getPixelForValue(t.value);
		seg(ctx, a.right, p, a.right - L, p, '#4d4d4d', 1);
	}
}
function drawPerp(chart, yTop, yBar, label, font, dx, yText) {
	const {ctx, scales: {x}} = chart;
	const p = x.getPixelForValue(perpDir);
	seg(ctx, p, yTop, p, yBar, '#000', 1.2);
	seg(ctx, p - 7.5, yBar, p + 7.5, yBar, '#000', 1.2);
	txt(ctx, label, p + dx, yText, font, '#000');
}

function axisOpts(min, max, ticks, pad, color, size, callback, extra) {
	return Object.assign({
		type: 'linear', min: min, max: max,
		afterBuildTicks: s => { s.ticks = ticks.map(v => ({value: v})); },
		grid: {color: GRID, drawTicks: false, lineWidth: 1},
		border: {display: false},
		ticks: {autoSkip: false, maxRotation: 0, padding: pad, color: color, font: {size: size, weight: 'bold'}, callback: callback}
	}, extra);
}
const dirLabel = v => (v === perpDir ? '' : v);
const plainLabel = v => v;
const countLabel = v => (countLabels.includes(v) ? v : '');

// ---- left: bin-averaged wind speeds ----
const leftDecor = {
	id: 'leftDecor',
	beforeDatasetsDraw(chart) { drawLee(chart); },
	afterDatasetDraw(chart, args) { if (args.index === 1) drawMast(chart); },
	afterDraw(chart) {
		const ctx = chart.ctx;
		drawBox(chart, 'y', 'y2');
		txt(ctx, chartTitle, 274, 14, B(15.4), '#000');
		txt(ctx, mastDist[0], 114.5, 29.3, N(12.6), MAG);
		txt(ctx, mastNames[0], 125.5, 39.5, N(13), MAG);
		txt(ctx, mastDist[1], 217, 29.3, N(12.6), MAG);
		txt(ctx, mastNames[1], 205, 39.5, N(13), MAG);
		drawPerp(chart, 16.5, 32.7, String(perpDir), B(13.8), -5, 39.5);
		txt(ctx, leeLabel, 84, 290, B(14.5), '#000', 'center', -Math.PI / 2);
		txt(ctx, leftYTitle, 17, 222, B(15.4), INK, 'center', -Math.PI / 2);
		txt(ctx, countTitle, 555, 352, B(15.4), GRAY, 'center', -Math.PI / 2);
		txt(ctx, leftXTitle, 285, 432, B(15.4), INK);
		// legend
		const ds = chart.data.datasets;
		ctx.save();
		ctx.fillStyle = '#fff';
		ctx.fillRect(189, 294, 292, 23);
		ctx.strokeStyle = INK;
		ctx.lineWidth = 0.8;
		ctx.strokeRect(189.5, 294.5, 292, 23);
		ctx.restore();
		const items = [[4, 195, 225, 230, 3], [5, 275, 305, 309, 3], [3, 352, 382, 386, 2]];
		for (const [i, a, b, tx, w] of items) {
			seg(ctx, a, 305.5, b, 305.5, ds[i].borderColor, w);
			txt(ctx, ds[i].label, tx, 306, B(14), '#000', 'left');
		}
	}
};

new Chart(document.getElementById('left'), {
	type: 'scatter',
	data: {datasets: [
		{label: 'Sonic raw', data: rowsToPoints(sonicRaw), backgroundColor: '#000', borderWidth: 0, pointRadius: 1.5, order: 6},
		{label: 'Lidar raw', data: rowsToPoints(lidarRaw), backgroundColor: '#ff0000', borderWidth: 0, pointRadius: 1.5, order: 5},
		{type: 'line', label: countTitle, yAxisID: 'y2', data: binPoints(countPerBin), borderColor: GRAY, backgroundColor: GRAY, borderWidth: 1, pointRadius: 2.2, pointBorderWidth: 0, order: 4},
		{type: 'line', label: 'Sonic - Lidar', data: binPoints(diffMean), borderColor: '#0000ff', backgroundColor: '#0000ff', borderWidth: 2, pointRadius: 3, pointBorderWidth: 0, order: 3},
		{type: 'line', label: 'Sonic', data: binPoints(sonicMean), borderColor: '#000', backgroundColor: '#000', borderWidth: 3, pointRadius: 5, pointBorderWidth: 0, order: 2},
		{type: 'line', label: 'Lidar', data: binPoints(lidarMean), borderColor: '#ff0000', backgroundColor: '#ff0000', borderWidth: 3, pointRadius: 4, pointBorderWidth: 0, order: 1}
	]},
	options: {
		responsive: false, animation: false, events: [],
		layout: {padding: {top: 45, left: 0, right: 0, bottom: 0}},
		plugins: {legend: {display: false}, tooltip: {enabled: false}},
		scales: {
			x: axisOpts(140, 220, dirTicks, 4, INK, 14, dirLabel, {position: 'bottom', afterFit: s => { s.height = 45; }}),
			y: axisOpts(-1, 24, leftYTicks, 6, INK, 14, plainLabel, {position: 'left', afterFit: s => { s.width = 54; }}),
			y2: axisOpts(-10, 240, countTicks, 2, GRAY, 13.5, countLabel, {position: 'right', grid: {display: false}, afterFit: s => { s.width = 52; }})
		}
	},
	plugins: [leftDecor]
});

// ---- right: speed difference ----
const rightDecor = {
	id: 'rightDecor',
	beforeDatasetsDraw(chart) {
		drawLee(chart);
		const {ctx, chartArea: a, scales: {y}} = chart;
		const p = y.getPixelForValue(0);
		seg(ctx, a.left, p, a.right, p, '#404040', 1.2);
	},
	afterDatasetDraw(chart, args) { if (args.index === 1) drawMast(chart); },
	afterDraw(chart) {
		const ctx = chart.ctx;
		drawBox(chart, 'y', 'y');
		txt(ctx, chartTitle, 309, 15, B(15.4), '#000');
		txt(ctx, mastDist[0], 135, 42.3, B(14), MAG);
		txt(ctx, mastNames[0], 165, 58, B(14), MAG);
		txt(ctx, mastDist[1], 273.6, 42.3, B(14), MAG);
		txt(ctx, mastNames[1], 245.6, 58, B(14), MAG);
		drawPerp(chart, 33.3, 49.3, perpDir + '\u00b0', B(14.5), 2.5, 57.3);
		txt(ctx, leeLabel, 120, 152, B(16.2), '#000', 'center', -Math.PI / 2);
		txt(ctx, rightYTitle, 58.3, 233, B(15.4), INK, 'center', -Math.PI / 2);
		txt(ctx, rightXTitle, 322, 433, B(15.4), INK);
		txt(ctx, meanLabels[0], 259.6, 141.7, B(16.5), GREEN, 'left');
		txt(ctx, meanLabels[1], 265, 334.3, B(16.5), '#0000ff', 'left');
		// "Wind ⊥ Lidar" along the right edge
		ctx.save();
		ctx.translate(542, 244);
		ctx.rotate(-Math.PI / 2);
		ctx.textBaseline = 'middle';
		ctx.textAlign = 'left';
		ctx.font = B(16);
		const w1 = ctx.measureText('Wind ').width;
		ctx.font = N(16);
		const w2 = ctx.measureText('\u22a5').width;
		ctx.font = B(16);
		const w3 = ctx.measureText(' Lidar').width;
		const x0 = -(w1 + w2 + w3) / 2;
		ctx.fillStyle = '#000';
		ctx.fillText('Wind ', x0, 0);
		ctx.font = N(16);
		ctx.fillStyle = '#808080';
		ctx.fillText('\u22a5', x0 + w1, 0);
		ctx.font = B(16);
		ctx.fillStyle = '#000';
		ctx.fillText(' Lidar', x0 + w1 + w2, 0);
		ctx.restore();
		// legend
		const ds = chart.data.datasets;
		ctx.save();
		ctx.fillStyle = '#fff';
		ctx.fillRect(174, 70, 270, 41);
		ctx.strokeStyle = INK;
		ctx.lineWidth = 0.8;
		ctx.strokeRect(174.5, 70.5, 270, 41);
		ctx.fillStyle = ds[0].backgroundColor;
		ctx.beginPath(); ctx.arc(197, 82, 1.8, 0, 2 * Math.PI); ctx.fill();
		ctx.fillStyle = ds[1].backgroundColor;
		ctx.beginPath(); ctx.arc(197, 100.5, 1.8, 0, 2 * Math.PI); ctx.fill();
		ctx.restore();
		txt(ctx, ds[0].label, 216.8, 82, B(14), '#000', 'left');
		txt(ctx, '"', 294, 100.5, B(14), '#000');
		txt(ctx, ', ' + ds[1].label, 319.4, 100.5, B(14), '#000', 'left');
	}
};

new Chart(document.getElementById('right'), {
	type: 'scatter',
	data: {datasets: [
		{label: 'Sonic - Lidar, no correction', data: rowsToPoints(diffNoCorr), backgroundColor: GREEN, borderWidth: 0, pointRadius: 1.8, order: 2},
		{label: 'aligned', data: rowsToPoints(diffAligned), backgroundColor: '#0000ff', borderWidth: 0, pointRadius: 1.8, order: 1}
	]},
	options: {
		responsive: false, animation: false, events: [],
		layout: {padding: {top: 66, left: 0, right: 25, bottom: 0}},
		plugins: {legend: {display: false}, tooltip: {enabled: false}},
		scales: {
			x: axisOpts(140, 220, dirTicks, 4, INK, 14, dirLabel, {position: 'bottom', afterFit: s => { s.height = 46; }}),
			y: axisOpts(-6, 8, rightYTicks, 6, INK, 14, plainLabel, {position: 'left', afterFit: s => { s.width = 91; }})
		}
	},
	plugins: [rightDecor]
});
</script>
</body>
</html>
